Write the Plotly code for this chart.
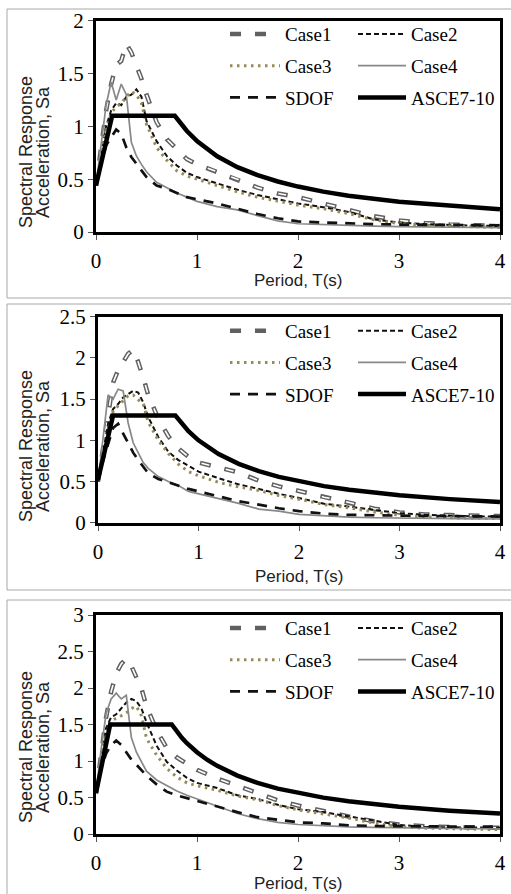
import plotly.graph_objects as go

W, H = 511, 894

# ---------------- data ----------------
period = [0, 0.05, 0.1, 0.15, 0.2, 0.25, 0.3, 0.35, 0.4, 0.45, 0.5, 0.6, 0.7, 0.8, 0.9,
          1.0, 1.2, 1.4, 1.6, 1.8, 2.0, 2.25, 2.5, 2.75, 3.0, 3.25, 3.5, 3.75, 4.0]

series_names = ["Case1", "Case2", "Case3", "Case4", "SDOF", "ASCE7-10"]

# Panel 1
p1_case1 = [0.44, 0.80, 1.15, 1.40, 1.58, 1.62, 1.78, 1.70, 1.58, 1.45, 1.30, 1.04, 0.88, 0.78, 0.69,
            0.64, 0.57, 0.50, 0.42, 0.365, 0.33, 0.27, 0.21, 0.15, 0.11, 0.085, 0.072, 0.064, 0.057]
p1_case2 = [0.44, 0.70, 1.00, 1.15, 1.22, 1.20, 1.28, 1.30, 1.35, 1.28, 1.05, 0.86, 0.72, 0.63, 0.56,
            0.52, 0.46, 0.40, 0.35, 0.31, 0.27, 0.235, 0.19, 0.12, 0.09, 0.075, 0.066, 0.06, 0.057]
p1_case3 = [0.44, 0.72, 0.95, 1.13, 1.18, 1.22, 1.28, 1.33, 1.30, 1.22, 1.02, 0.80, 0.68, 0.58, 0.53,
            0.50, 0.44, 0.38, 0.33, 0.29, 0.255, 0.22, 0.175, 0.115, 0.08, 0.065, 0.055, 0.05, 0.045]
p1_case4 = [0.44, 0.85, 1.20, 1.42, 1.25, 1.40, 1.30, 0.85, 0.72, 0.64, 0.57, 0.47, 0.42, 0.37, 0.33,
            0.29, 0.24, 0.21, 0.155, 0.105, 0.078, 0.068, 0.06, 0.055, 0.05, 0.047, 0.044, 0.042, 0.04]
p1_sdof = [0.44, 0.65, 0.82, 0.90, 0.97, 0.93, 0.80, 0.71, 0.65, 0.59, 0.52, 0.44, 0.41, 0.37, 0.33,
           0.31, 0.27, 0.22, 0.17, 0.13, 0.10, 0.09, 0.08, 0.075, 0.07, 0.068, 0.066, 0.065, 0.064]
p1_asce_t = [0, 0.16, 0.78, 0.85, 0.9, 1.0, 1.1, 1.2, 1.4, 1.6, 1.8, 2.0, 2.25, 2.5, 3.0, 3.5, 4.0]
p1_asce = [0.44, 1.10, 1.10, 1.012, 0.956, 0.86, 0.782, 0.717, 0.614, 0.538, 0.478, 0.43, 0.382,
           0.344, 0.287, 0.246, 0.215]

# Panel 2
p2_case1 = [0.50, 0.90, 1.30, 1.70, 1.85, 1.95, 2.05, 2.10, 1.95, 1.76, 1.55, 1.26, 1.05, 0.90, 0.80,
            0.73, 0.67, 0.61, 0.51, 0.44, 0.385, 0.31, 0.245, 0.17, 0.125, 0.10, 0.092, 0.086, 0.08]
p2_case2 = [0.50, 0.85, 1.20, 1.38, 1.44, 1.52, 1.56, 1.60, 1.58, 1.46, 1.28, 1.04, 0.86, 0.76, 0.69,
            0.62, 0.54, 0.465, 0.41, 0.35, 0.30, 0.23, 0.195, 0.155, 0.115, 0.095, 0.083, 0.077, 0.073]
p2_case3 = [0.50, 0.78, 1.10, 1.35, 1.42, 1.48, 1.54, 1.55, 1.50, 1.44, 1.22, 1.00, 0.84, 0.71, 0.62,
            0.57, 0.49, 0.435, 0.39, 0.33, 0.285, 0.22, 0.18, 0.13, 0.09, 0.07, 0.06, 0.055, 0.05]
p2_case4 = [0.50, 1.00, 1.55, 1.50, 1.62, 1.60, 1.21, 0.97, 0.84, 0.73, 0.66, 0.56, 0.50, 0.45, 0.38,
            0.35, 0.29, 0.235, 0.165, 0.14, 0.10, 0.08, 0.068, 0.06, 0.055, 0.052, 0.05, 0.047, 0.045]
p2_sdof = [0.50, 0.75, 0.95, 1.15, 1.20, 1.08, 0.95, 0.85, 0.76, 0.68, 0.60, 0.53, 0.49, 0.45, 0.41,
           0.38, 0.32, 0.26, 0.22, 0.175, 0.14, 0.11, 0.095, 0.088, 0.085, 0.082, 0.08, 0.078, 0.075]
p2_asce_t = [0, 0.15, 0.77, 0.85, 0.9, 1.0, 1.1, 1.2, 1.4, 1.6, 1.8, 2.0, 2.25, 2.5, 3.0, 3.5, 4.0]
p2_asce = [0.52, 1.30, 1.30, 1.176, 1.111, 1.0, 0.909, 0.833, 0.714, 0.625, 0.556, 0.5, 0.444,
           0.4, 0.333, 0.286, 0.25]

# Panel 3
p3_case1 = [0.56, 1.10, 1.60, 1.95, 2.20, 2.33, 2.40, 2.30, 2.15, 1.99, 1.75, 1.42, 1.18, 1.05, 0.96,
            0.88, 0.76, 0.66, 0.56, 0.46, 0.39, 0.31, 0.24, 0.175, 0.13, 0.105, 0.093, 0.088, 0.085]
p3_case2 = [0.56, 1.00, 1.45, 1.60, 1.64, 1.72, 1.80, 1.85, 1.82, 1.72, 1.53, 1.21, 0.99, 0.87, 0.77,
            0.70, 0.63, 0.53, 0.48, 0.40, 0.34, 0.30, 0.24, 0.175, 0.125, 0.097, 0.09, 0.088, 0.087]
p3_case3 = [0.56, 0.95, 1.35, 1.55, 1.58, 1.62, 1.66, 1.72, 1.75, 1.62, 1.31, 1.08, 0.90, 0.78, 0.70,
            0.66, 0.60, 0.52, 0.47, 0.39, 0.33, 0.28, 0.22, 0.15, 0.10, 0.08, 0.07, 0.065, 0.06]
p3_case4 = [0.56, 1.15, 1.65, 1.85, 1.93, 1.85, 1.90, 1.32, 1.12, 0.98, 0.86, 0.74, 0.66, 0.59, 0.53,
            0.48, 0.38, 0.28, 0.21, 0.16, 0.13, 0.11, 0.098, 0.09, 0.083, 0.078, 0.075, 0.072, 0.07]
p3_sdof = [0.56, 0.90, 1.10, 1.22, 1.28, 1.22, 1.12, 1.02, 0.95, 0.88, 0.80, 0.68, 0.58, 0.53, 0.49,
           0.45, 0.38, 0.30, 0.23, 0.19, 0.16, 0.145, 0.12, 0.11, 0.105, 0.102, 0.10, 0.10, 0.10]
p3_asce_t = [0, 0.14, 0.75, 0.8, 0.85, 0.9, 1.0, 1.1, 1.2, 1.4, 1.6, 1.8, 2.0, 2.25, 2.5, 3.0, 3.5, 4.0]
p3_asce = [0.56, 1.50, 1.50, 1.40, 1.318, 1.244, 1.12, 1.018, 0.933, 0.80, 0.70, 0.622, 0.56, 0.498,
           0.448, 0.373, 0.32, 0.28]

x_ticks = [0, 1, 2, 3, 4]
p1_yticks = [0, 0.5, 1, 1.5, 2]
p2_yticks = [0, 0.5, 1, 1.5, 2, 2.5]
p3_yticks = [0, 0.5, 1, 1.5, 2, 2.5, 3]

x_title = "Period, T(s)"
y_title_1 = "Spectral Response"
y_title_2 = "Acceleration, Sa"

# ---------------- layout geometry (pixels) ----------------
panels = [
    dict(cases=[p1_case1, p1_case2, p1_case3, p1_case4, p1_sdof], at=p1_asce_t, a=p1_asce,
         yt=p1_yticks, plot=(96, 20.7, 500, 232), frame=(7, 9, 530, 298),
         ytc=152, xtc=280, leg=34),
    dict(cases=[p2_case1, p2_case2, p2_case3, p2_case4, p2_sdof], at=p2_asce_t, a=p2_asce,
         yt=p2_yticks, plot=(98, 316.7, 500, 522.7), frame=(7, 304, 530, 590),
         ytc=446, xtc=576, leg=330.7),
    dict(cases=[p3_case1, p3_case2, p3_case3, p3_case4, p3_sdof], at=p3_asce_t, a=p3_asce,
         yt=p3_yticks, plot=(96, 615, 500, 834), frame=(7, 600, 530, 910),
         ytc=747, xtc=883, leg=628),
]


def fx(x):
    return x / W


def fy(y):
    return 1 - y / H


styles = {
    "Case1": dict(color="#606060", width=4.5, dash="11px,14px"),
    "Case2": dict(color="#111111", width=2, dash="5px,3px"),
    "Case3": dict(color="#968a55", width=3, dash="2.5px,4.5px"),
    "Case4": dict(color="#888888", width=1.7),
    "SDOF": dict(color="#111111", width=2.7, dash="10px,8px"),
    "ASCE7-10": dict(color="#000000", width=4.5),
}
case1_inner = dict(color="white", width=1.6, dash="0px,1.5px,8px,15.5px")
col_of = {"Case1": 0, "Case3": 0, "SDOF": 0, "Case2": 1, "Case4": 1, "ASCE7-10": 1}

fig = go.Figure()
layout = dict(width=W, height=H, margin=dict(l=0, r=0, t=0, b=0, autoexpand=False),
              paper_bgcolor="white", plot_bgcolor="white", showlegend=True)
shapes = []
annotations = []
serif = "Liberation Serif, Times New Roman, serif"
sans = "Liberation Sans, Arial, sans-serif"

for i, p in enumerate(panels):
    n = i + 1
    xa = "x" if n == 1 else f"x{n}"
    ya = "y" if n == 1 else f"y{n}"
    leg_a = f"legend{2 * i + 1}" if i > 0 else "legend"
    leg_b = f"legend{2 * i + 2}"
    legs = [leg_a, leg_b]
    for name, vals in zip(series_names[:5], p["cases"]):
        fig.add_trace(go.Scatter(x=period, y=vals, mode="lines", name=name,
                                 line=styles[name], xaxis=xa, yaxis=ya,
                                 legend=legs[col_of[name]], legendgroup=f"{n}{name}"))
        if name == "Case1":
            fig.add_trace(go.Scatter(x=period, y=vals, mode="lines", name=name,
                                     line=case1_inner, xaxis=xa, yaxis=ya, showlegend=False,
                                     legendgroup=f"{n}{name}", hoverinfo="skip"))
    fig.add_trace(go.Scatter(x=p["at"], y=p["a"], mode="lines", name="ASCE7-10",
                             line=styles["ASCE7-10"], xaxis=xa, yaxis=ya,
                             legend=leg_b, legendgroup=f"{n}ASCE"))

    x0, y0, x1, y1 = p["plot"]
    ymax = p["yt"][-1]
    axis_common = dict(showline=True, linecolor="black", linewidth=3, mirror=True,
                       showgrid=False, zeroline=False, ticks="outside", ticklen=5,
                       tickwidth=1, tickcolor="#555555",
                       tickfont=dict(family=serif, size=21, color="black"))
    layout["xaxis" if n == 1 else f"xaxis{n}"] = dict(
        axis_common, domain=[fx(x0), fx(x1)], range=[0, 4], tickvals=x_ticks,
        anchor=ya, ticklabelstandoff=3)
    layout["yaxis" if n == 1 else f"yaxis{n}"] = dict(
        axis_common, domain=[fy(y1), fy(y0)], range=[0, ymax], tickvals=p["yt"],
        anchor=xa)

    # legends (two columns)
    top = p["leg"] - 18.85
    for k, lx in enumerate([225, 353]):
        layout[legs[k]] = dict(x=fx(lx), y=fy(top), xanchor="left", yanchor="top",
                               orientation="v", bgcolor="rgba(0,0,0,0)", borderwidth=0,
                               itemwidth=50 if k == 0 else 48, traceorder="grouped",
                               tracegroupgap=4,
                               font=dict(family=serif, size=19, color="black"))

    fx0, fy0, fx1, fy1 = p["frame"]
    shapes.append(dict(type="rect", xref="paper", yref="paper", x0=fx(fx0), x1=fx(fx1),
                       y0=fy(fy1), y1=fy(fy0), line=dict(color="#a8a8a8", width=1),
                       layer="below"))

    annotations.append(dict(text=x_title, xref="paper", yref="paper", x=fx((x0 + x1) / 2),
                            y=fy(p["xtc"]), xanchor="center", yanchor="middle",
                            showarrow=False, font=dict(family=sans, size=17, color="#222222")))
    for tx, txt in [(26, y_title_1), (43, y_title_2)]:
        annotations.append(dict(text=txt, xref="paper", yref="paper", x=fx(tx),
                                y=fy(p["ytc"]), xanchor="center", yanchor="middle",
                                textangle=-90, showarrow=False,
                                font=dict(family=sans, size=18, color="#222222")))

layout["shapes"] = shapes
layout["annotations"] = annotations
fig.update_layout(**layout)
fig.write_html("out.html", config={"displayModeBar": False},
               post_script="document.body.style.margin='0px';document.body.style.overflow='hidden';")
